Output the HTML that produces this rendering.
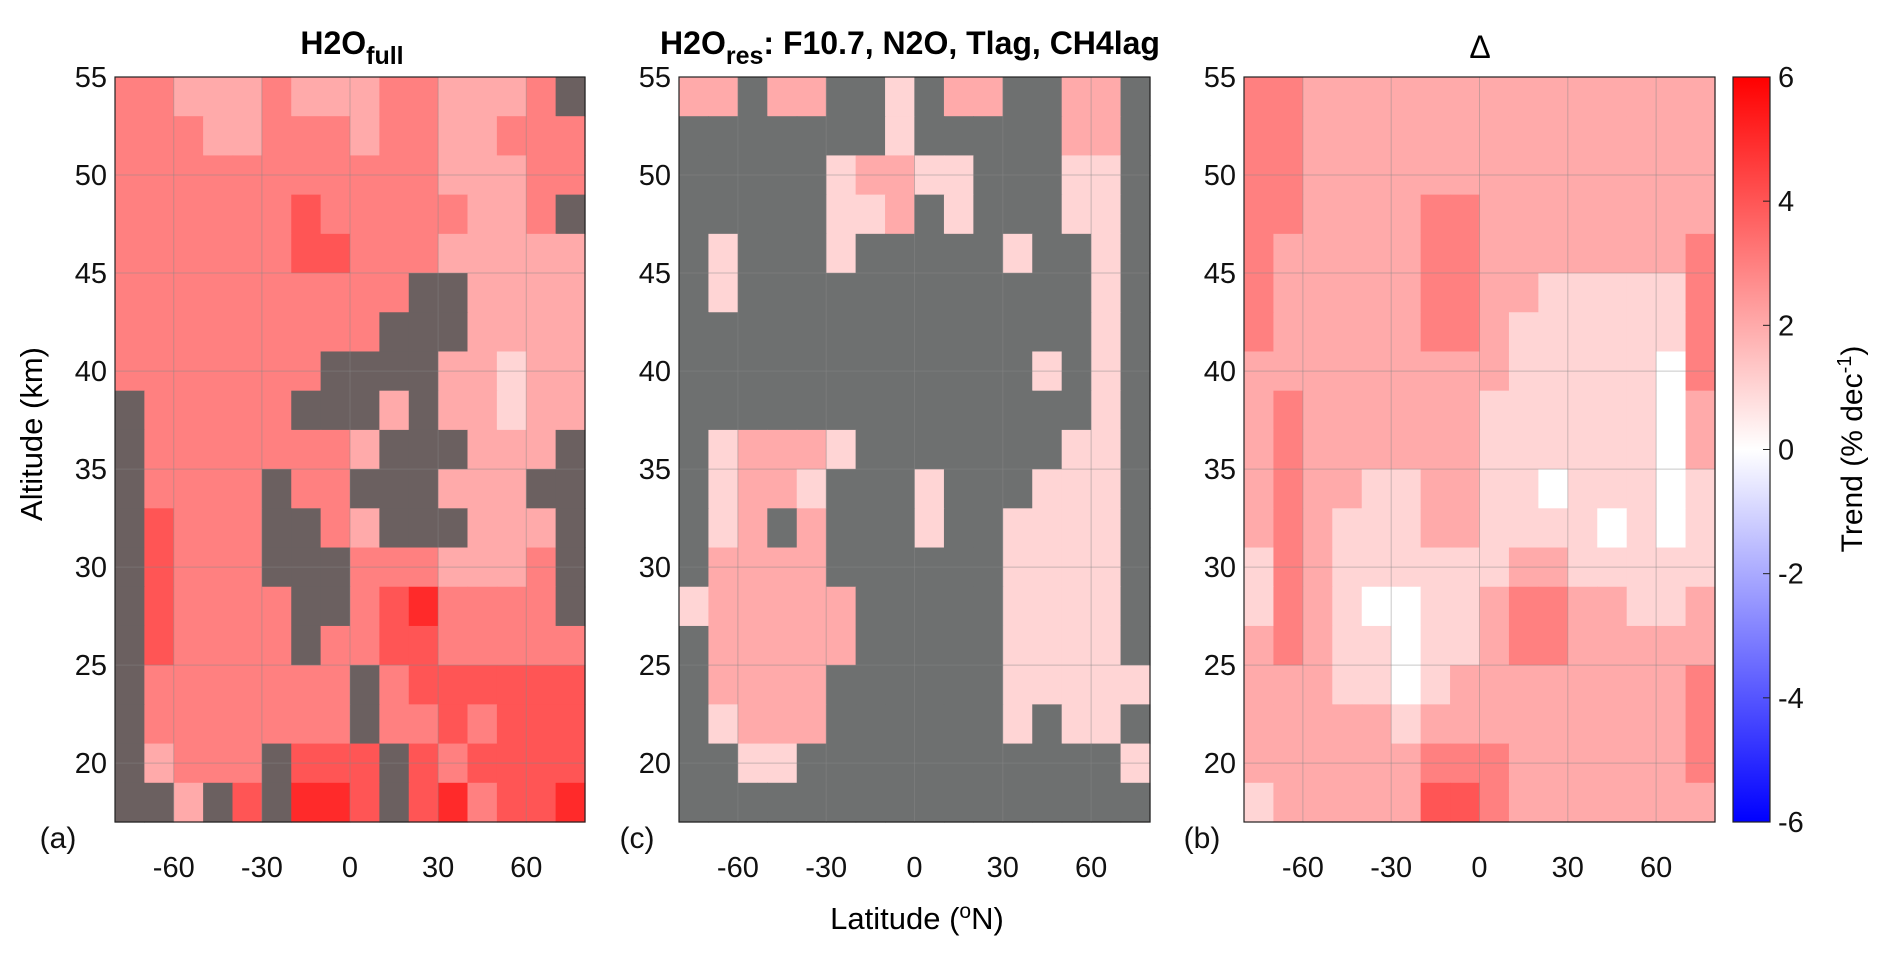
<!DOCTYPE html>
<html><head><meta charset="utf-8">
<style>
html,body{margin:0;padding:0;background:#fff;}
svg{display:block;font-family:"Liberation Sans",Arial,sans-serif;}
</style></head>
<body>
<svg id="chart" width="1892" height="957" viewBox="0 0 1892 957" xmlns="http://www.w3.org/2000/svg"></svg>
<script>
// ---- data (rows top=55km to bottom=17km in 2 km bins; columns -80..80 in 10 deg bins; 'g' = not significant) ----
const latBins = [-75,-65,-55,-45,-35,-25,-15,-5,5,15,25,35,45,55,65,75];
const altBins = [54,52,50,48,46,44,42,40,38,36,34,32,30,28,26,24,22,20,18];
const yTicks = [20,25,30,35,40,45,50,55];
const xTicks = [-60,-30,0,30,60];
const cbTicks = [6,4,2,0,-2,-4,-6];
const panelA = [
"332223222332223g",
"3332233323322333",
"3333333333322233",
"333333433333223g",
"3333334433322222",
"3333333333gg2222",
"333333333ggg2222",
"3333333gggg22122",
"g33333ggg2g22122",
"g33333332ggg222g",
"g3333g33ggg222gg",
"g4333gg32ggg222g",
"g4333ggg3332223g",
"g43333gg3453333g",
"g43333g334433333",
"g3333333g3444444",
"g3333333g3343444",
"g2333g444g434444",
"gg2g4g554g453445"];
const panelC = [
"22g22gg1g22gg22g",
"ggggggg1ggggg22g",
"ggggg12211ggg11g",
"ggggg112g1ggg11g",
"g1ggg1ggggg1gg1g",
"g1gggggggggggg1g",
"gggggggggggggg1g",
"gggggggggggg1g1g",
"gggggggggggggg1g",
"g12221ggggggg11g",
"g1221ggg1ggg111g",
"g12g2ggg1gg1111g",
"g2222gggggg1111g",
"122222ggggg1111g",
"g22222ggggg1111g",
"g2222gggggg11111",
"g1222gggggg1g11g",
"gg11ggggggggggg1",
"gggggggggggggggg"];
const panelB = [
"3322222222222222",
"3322222222222222",
"3322222222222222",
"3322223322222222",
"3222223322222223",
"3222223322111113",
"3222223321111113",
"2222222221111103",
"2322222211111102",
"2322222211111102",
"2322112211011101",
"2321112211110101",
"1321111112211111",
"1321001123322112",
"2321101123322222",
"2221101222222223",
"2222212222222223",
"2222223332222223",
"1222224432222222"];

const svg = document.getElementById('chart');
const NS = 'http://www.w3.org/2000/svg';
function mk(tag, attrs, parent){const e=document.createElementNS(NS,tag);for(const k in attrs)e.setAttribute(k,attrs[k]);(parent||svg).appendChild(e);return e;}
function color(v){
  const t=Math.max(-1,Math.min(1,v/6));
  if(t>=0){const c=Math.round(255*(1-t));return `rgb(255,${c},${c})`;}
  const c=Math.round(255*(1+t));return `rgb(${c},${c},255)`;
}
const plotTop=77, plotBot=822, altMin=17, altMax=55, latMin=-80, latMax=80;
function yS(a){return plotBot-(a-altMin)/(altMax-altMin)*(plotBot-plotTop);}

const panels=[
 {x0:115,x1:585,data:panelA,gray:'#6b6060',label:'(a)',lx:58,name:'h2o-full'},
 {x0:679,x1:1150,data:panelC,gray:'#6e7070',label:'(c)',lx:637,name:'h2o-res'},
 {x0:1244,x1:1715,data:panelB,gray:'#6e6e6e',label:'(b)',lx:1202,name:'delta'}
];
panels.forEach(p=>{
  const xS=l=>p.x0+(l-latMin)/(latMax-latMin)*(p.x1-p.x0);
  const g=mk('g',{});
  
  
  altBins.forEach((a,ri)=>{
    latBins.forEach((l,ci)=>{
      const ch=p.data[ri][ci];
      const x=xS(l-5), y=yS(a+1);
      const r=mk('rect',{x:x,y:y,width:xS(l+5)-x+0.6,height:yS(a-1)-y+0.6,fill:ch==='g'?p.gray:color(+ch)},g);
      
      
    });
  });
  yTicks.forEach(t=>{mk('line',{x1:p.x0,x2:p.x1,y1:yS(t),y2:yS(t),stroke:'#888','stroke-opacity':0.45,'stroke-width':1},g);});
  xTicks.forEach(t=>{mk('line',{x1:xS(t),x2:xS(t),y1:plotTop,y2:plotBot,stroke:'#888','stroke-opacity':0.45,'stroke-width':1},g);});
  mk('rect',{x:p.x0,y:plotTop,width:p.x1-p.x0,height:plotBot-plotTop,fill:'none',stroke:'#222','stroke-width':1.2},g);
  yTicks.forEach(t=>{
    const tx=mk('text',{x:p.x0-8,y:yS(t)+10,'text-anchor':'end','font-size':29,fill:'#111'},g);tx.textContent=t;
    
    
  });
  xTicks.forEach(t=>{
    const tx=mk('text',{x:xS(t),y:877,'text-anchor':'middle','font-size':29,fill:'#111'},g);tx.textContent=t;
    
    
  });
  const lb=mk('text',{x:p.lx,y:848,'text-anchor':'middle','font-size':30,fill:'#111'},g);lb.textContent=p.label;
  
  
});
const cb=mk('g',{});


const defs=mk('defs',{});
const grad=mk('linearGradient',{id:'cbg',x1:0,y1:0,x2:0,y2:1},defs);
[[0,'#ff0000'],[0.5,'#ffffff'],[1,'#0000ff']].forEach(s=>mk('stop',{offset:s[0],'stop-color':s[1]},grad));
mk('rect',{x:1733,y:plotTop,width:37,height:plotBot-plotTop,fill:'url(#cbg)',stroke:'#222','stroke-width':1.2},cb);
cbTicks.forEach(t=>{
  const y=plotTop+(6-t)/12*(plotBot-plotTop);
  mk('line',{x1:1763,x2:1770,y1:y,y2:y,stroke:'#222'},cb);
  const tx=mk('text',{x:1778,y:y+10,'font-size':29,fill:'#111'},cb);tx.textContent=t;
  
  
});
</script>
<svg style="position:absolute;left:0;top:0" width="1892" height="957">
  <text x="352" y="54" text-anchor="middle" font-size="32" font-weight="bold" font-family="Liberation Sans, sans-serif">H2O<tspan dy="10" font-size="25">full</tspan></text>
  <text x="910" y="54" text-anchor="middle" font-size="32" font-weight="bold" font-family="Liberation Sans, sans-serif">H2O<tspan dy="10" font-size="25">res</tspan><tspan dy="-10">: F10.7, N2O, Tlag, CH4lag</tspan></text>
  <text x="1480" y="58" text-anchor="middle" font-size="32" font-family="Liberation Sans, sans-serif">Δ</text>
  <text transform="translate(42,434) rotate(-90)" text-anchor="middle" font-size="31" font-family="Liberation Sans, sans-serif">Altitude (km)</text>
  <text x="917" y="929" text-anchor="middle" font-size="31" font-family="Liberation Sans, sans-serif">Latitude (<tspan dy="-11" font-size="21">o</tspan><tspan dy="11">N)</tspan></text>
  <text transform="translate(1862,449) rotate(-90)" text-anchor="middle" font-size="30" font-family="Liberation Sans, sans-serif">Trend (% dec<tspan dy="-11" font-size="20">-1</tspan><tspan dy="11">)</tspan></text>
</svg>
</body></html>
